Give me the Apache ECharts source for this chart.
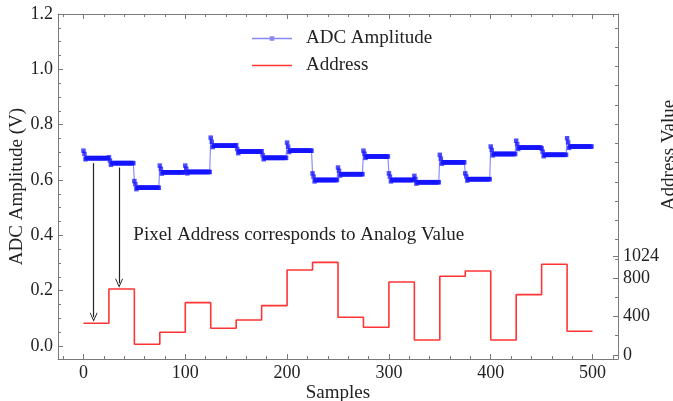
<!DOCTYPE html>
<html><head><meta charset="utf-8">
<script src="https://cdn.jsdelivr.net/npm/echarts@6/dist/echarts.min.js"></script>
<style>html,body{margin:0;padding:0;background:#fff}#c{width:673px;height:401px}</style>
</head><body><div id="c"></div>
<script>
// ---- data ----
const segmentEdges = [0,25,50,75,100,125,150,175,200,225,250,275,300,325,350,375,400,425,450,475,500];
const samplesPerSegment = 25;
// first three samples of each address segment (settling transient), volts
const adcTransient = [
  [0.706,0.694,0.675],[0.682,0.670,0.655],[0.596,0.584,0.567],[0.652,0.640,0.623],
  [0.652,0.640,0.624],[0.753,0.738,0.719],[0.726,0.712,0.697],[0.704,0.690,0.675],
  [0.735,0.720,0.701],[0.624,0.612,0.595],[0.645,0.633,0.616],[0.706,0.695,0.680],
  [0.624,0.612,0.595],[0.615,0.603,0.587],[0.691,0.677,0.659],[0.624,0.613,0.598],
  [0.721,0.708,0.689],[0.742,0.729,0.712],[0.714,0.702,0.686],[0.751,0.736,0.716]
];
// settled level of each segment, volts
const adcSteady = [0.679,0.661,0.572,0.628,0.629,0.724,0.703,0.680,0.706,0.600,
                   0.621,0.685,0.600,0.592,0.664,0.603,0.694,0.717,0.691,0.721];
// pixel address of each segment
const addressValues = [329,686,111,236,544,277,364,513,884,963,392,288,759,156,818,873,156,627,943,246];

const xMajorTicks = [0,100,200,300,400,500];
const xMinorTicks = [-20,20,40,60,80,120,140,160,180,220,240,260,280,320,340,360,380,420,440,460,480,520];
const leftMajorTicks = [0,0.2,0.4,0.6,0.8,1.0,1.2];
const leftMinorTicks = [0.05,0.1,0.15,0.25,0.3,0.35,0.45,0.5,0.55,0.65,0.7,0.75,0.85,0.9,0.95,1.05,1.1,1.15];
const rightMajorTicks = [0,400,800,1024];
const rightMinorTicks = [200,600,1000,1200,1400,1600,1800,2000,2200,2400,2600,2800,3000,3200,3400];

const arrowStarts = [[10,0.661],[35,0.645]];
const arrowEnds = [[10,0.104],[35,0.227]];
const annotationAt = [49,0.4];
const annotationText = 'Pixel Address corresponds to Analog Value';

// ---- build series data ----
const adcData = [];
for (let k = 0; k < adcSteady.length; k++) {
  for (let i = 0; i < samplesPerSegment; i++) {
    const v = i < adcTransient[k].length ? adcTransient[k][i] : adcSteady[k];
    adcData.push([segmentEdges[k] + i, v]);
  }
}
const addressData = addressValues.map((v, k) => [segmentEdges[k], v]);
addressData.push([segmentEdges[segmentEdges.length - 1], addressValues[addressValues.length - 1]]);

const FONT = 'Liberation Serif';
const TXT = '#222';
const SPINE = '#7a7a7a';
const FS = 18;
const FS_T = 19;

function tickAxis(base, ticks, len, showLine) {
  return Object.assign({
    type: 'value', splitLine: {show:false}, offset: 0,
    axisLine: {show: !!showLine, onZero: false, lineStyle: {color: SPINE, width: 1}},
    axisTick: {show: true, inside: true, length: len, customValues: ticks, lineStyle: {color: SPINE, width: 1}},
    axisLabel: {show: false}
  }, base);
}

const ICON_ADC = 'path://M0,0 L0.01,0 L0.01,6 L0,6 Z M0,2.3 L40,2.3 L40,3.7 L0,3.7 Z M17.7,0.7 L22.3,0.7 L22.3,5.3 L17.7,5.3 Z';
const ICON_ADDR = 'path://M0,0 L0.01,0 L0.01,6 L0,6 Z M0,2.3 L40,2.3 L40,3.7 L0,3.7 Z';

const chart = echarts.init(document.getElementById('c'), null, {renderer: 'canvas'});
chart.setOption({
  animation: false,
  backgroundColor: '#fff',
  textStyle: {fontFamily: FONT},
  grid: {left: 58, top: 14, right: 55, bottom: 42, containLabel: false, outerBoundsMode: 'none'},
  xAxis: [
    tickAxis({position: 'bottom', min: -25, max: 525,
      name: 'Samples', nameLocation: 'middle', nameGap: 25, nameMoveOverlap: false,
      nameTextStyle: {fontFamily: FONT, fontSize: FS_T, color: TXT},
      axisLabel: {show: true, customValues: xMajorTicks, margin: 5, fontFamily: FONT, fontSize: FS, color: TXT}
    }, xMajorTicks, 5, true),
    tickAxis({position: 'bottom', min: -25, max: 525}, xMinorTicks, 3, false),
    tickAxis({position: 'top', min: -25, max: 525}, xMajorTicks, 5, true),
    tickAxis({position: 'top', min: -25, max: 525}, xMinorTicks, 3, false)
  ],
  yAxis: [
    tickAxis({position: 'left', min: -0.047, max: 1.2,
      name: 'ADC Amplitude (V)', nameLocation: 'middle', nameGap: 31, nameRotate: 90, nameMoveOverlap: false,
      nameTextStyle: {fontFamily: FONT, fontSize: FS_T, color: TXT},
      axisLabel: {show: true, customValues: leftMajorTicks, margin: 5, fontFamily: FONT, fontSize: FS, color: TXT,
        formatter: v => v.toFixed(1)}
    }, leftMajorTicks, 5, true),
    tickAxis({position: 'left', min: -0.047, max: 1.2}, leftMinorTicks, 3, false),
    tickAxis({position: 'right', min: -42, max: 3545,
      axisLabel: {show: true, customValues: rightMajorTicks, margin: 5, fontFamily: FONT, fontSize: FS, color: TXT,
        formatter: v => String(v)}
    }, rightMajorTicks, 5, true),
    tickAxis({position: 'right', min: -42, max: 3545}, rightMinorTicks, 3, false)
  ],
  legend: {
    orient: 'vertical', left: 247, top: 24, itemWidth: 40, itemHeight: 6, itemGap: 8,
    textStyle: {fontFamily: FONT, fontSize: FS_T, color: TXT, lineHeight: 18, padding: [0,0,0,9]},
    data: [
      {name: 'ADC Amplitude', icon: ICON_ADC, itemStyle: {color: 'rgba(40,40,255,0.55)'}},
      {name: 'Address', icon: ICON_ADDR, itemStyle: {color: 'rgba(255,30,30,0.9)'}}
    ]
  },
  series: [
    {
      name: 'ADC Amplitude', type: 'line', xAxisIndex: 0, yAxisIndex: 0,
      data: adcData, symbol: 'rect', symbolSize: 4.5, showAllSymbol: true,
      itemStyle: {color: 'rgba(20,20,255,0.75)'},
      lineStyle: {color: 'rgba(0,0,255,0.45)', width: 1.2},
      z: 3,
      markLine: {
        silent: true, animation: false,
        symbol: ['none', 'path://M0,12 L6,0 L12,12 L10.6,12 L6,3 L1.4,12 Z'],
        symbolSize: [8, 9],
        lineStyle: {color: '#222', width: 1.2, type: 'solid'},
        label: {show: false},
        data: arrowStarts.map((s, i) => [{coord: s}, {coord: arrowEnds[i]}])
      },
      markPoint: {
        silent: true, animation: false,
        symbol: 'circle', symbolSize: 0,
        label: {show: true, position: 'right', distance: 0, formatter: annotationText,
          fontFamily: FONT, fontSize: FS_T, color: TXT},
        data: [{coord: annotationAt}]
      }
    },
    {
      name: 'Address', type: 'line', xAxisIndex: 0, yAxisIndex: 2,
      data: addressData, step: 'end', symbol: 'none', showSymbol: false,
      itemStyle: {color: 'rgba(255,30,30,0.9)'},
      lineStyle: {color: 'rgba(255,30,30,0.9)', width: 1.6},
      z: 2
    }
  ],
  graphic: [{
    type: 'text', x: 669, y: 155, rotation: Math.PI / 2,
    style: {text: 'Address Value', fontFamily: FONT, fontSize: FS_T, fill: TXT, textAlign: 'center', textVerticalAlign: 'middle'}
  }]
});
</script>
</body></html>
